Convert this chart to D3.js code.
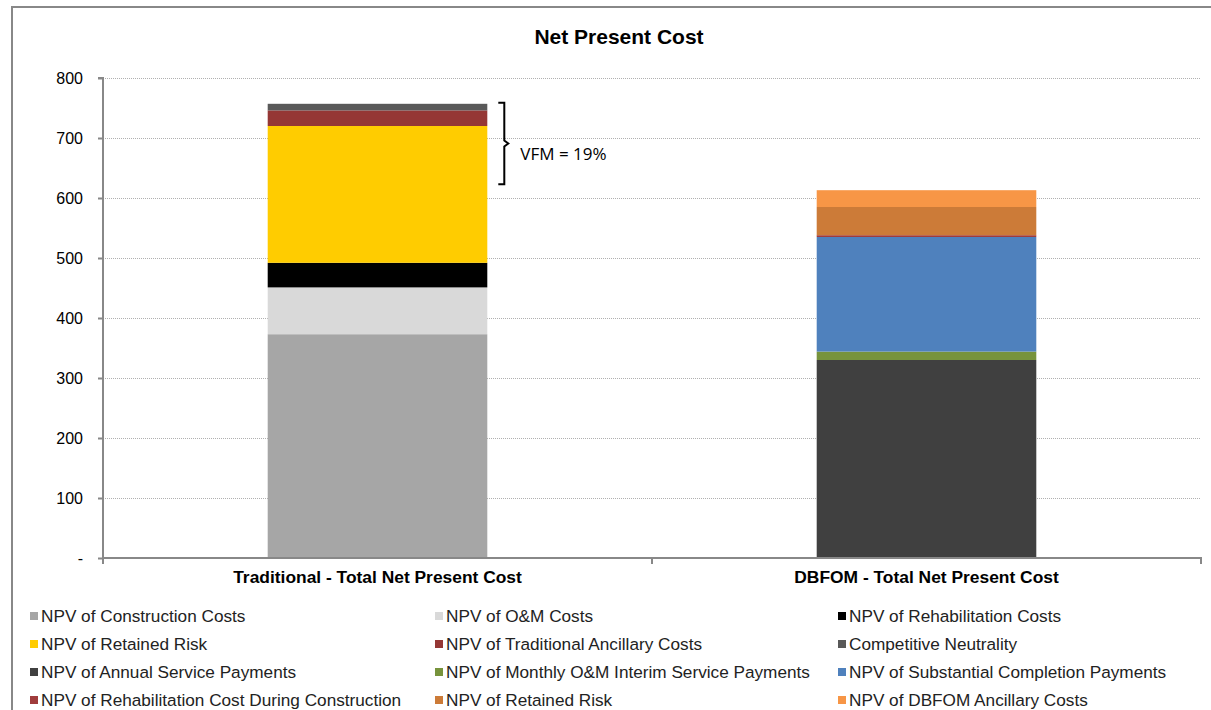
<html>
<head>
<script src="https://d3js.org/d3.v7.min.js"></script>
<style>
  body { margin: 0; background: #fff; }
  text { font-family: "Liberation Sans", Arial, sans-serif; }
</style>
</head>
<body>
<svg id="chart" width="1211" height="710"></svg>
<script>
// categories and series
var categories = ["Traditional - Total Net Present Cost", "DBFOM - Total Net Present Cost"];
var seriesNames = [
  "NPV of Construction Costs", "NPV of O&M Costs", "NPV of Rehabilitation Costs",
  "NPV of Retained Risk", "NPV of Traditional Ancillary Costs", "Competitive Neutrality",
  "NPV of Annual Service Payments", "NPV of Monthly O&M Interim Service Payments", "NPV of Substantial Completion Payments",
  "NPV of Rehabilitation Cost During Construction", "NPV of Retained Risk ", "NPV of DBFOM Ancillary Costs"
];
var traditionalValues = [373, 78, 41, 228, 26, 11, 0, 0, 0, 0, 0, 0];
var dbfomValues = [0, 0, 0, 0, 0, 0, 330, 14, 191, 3, 47, 28];
var colors = ["#a6a6a6", "#d9d9d9", "#000000", "#ffcc00", "#953735", "#595959",
              "#404040", "#77933c", "#4f81bd", "#a03c3c", "#cc7b38", "#f79646"];
var yTicks = [0, 100, 200, 300, 400, 500, 600, 700, 800];
var vfmLabel = "VFM = 19%";

var svg = d3.select("#chart");

// frame
svg.append("line").attr("x1", 12).attr("y1", 7).attr("x2", 1211).attr("y2", 7)
  .attr("stroke", "#888").attr("stroke-width", 2);
svg.append("line").attr("x1", 12).attr("y1", 6).attr("x2", 12).attr("y2", 710)
  .attr("stroke", "#888").attr("stroke-width", 2);

var plotLeft = 103, plotRight = 1201, plotTop = 78, plotBottom = 558;

var y = d3.scaleLinear().domain([0, 800]).range([plotBottom, plotTop]);
var xBand = d3.scaleBand().domain(categories).range([plotLeft, plotRight]).paddingInner(0.6).paddingOuter(0.3);
var xAxisScale = d3.scaleBand().domain(categories).range([plotLeft, plotRight]).padding(0);

// table for stack
var rows = categories.map(function(c, i) {
  var r = { cat: c };
  seriesNames.forEach(function(s, j) { r[s] = i === 0 ? traditionalValues[j] : dbfomValues[j]; });
  return r;
});
var stacks = d3.stack().keys(seriesNames)(rows);

// gridlines
svg.append("g").selectAll("line")
  .data(yTicks.filter(function(d) { return d > 0; }))
  .join("line")
    .attr("x1", plotLeft).attr("x2", plotRight - 1)
    .attr("y1", function(d) { return Math.round(y(d)) + 0.5; })
    .attr("y2", function(d) { return Math.round(y(d)) + 0.5; })
    .attr("stroke", "#b0b0b0").attr("stroke-dasharray", "1,1");

// bars
svg.append("g").selectAll("g")
  .data(stacks)
  .join("g")
    .attr("fill", function(d, i) { return colors[i]; })
  .selectAll("rect")
  .data(function(d) { return d; })
  .join("rect")
    .attr("x", function(d) { return xBand(d.data.cat); })
    .attr("y", function(d) { return y(d[1]); })
    .attr("height", function(d) { return y(d[0]) - y(d[1]); })
    .attr("width", xBand.bandwidth());

// y axis
var yAxis = svg.append("g").attr("transform", "translate(" + plotLeft + ",0)")
  .call(d3.axisLeft(y).tickValues(yTicks).tickSize(5).tickPadding(15)
    .tickFormat(function(d) { return d === 0 ? "-" : d; }));
yAxis.select(".domain").attr("stroke", "#888").attr("stroke-width", 2).attr("d", "M-5," + plotTop + "H0V" + plotBottom);
yAxis.selectAll(".tick line").attr("stroke", "#888").attr("stroke-width", 2);
yAxis.selectAll("text").attr("font-size", "16px").attr("fill", "#000")
  .style("font-family", "'Liberation Sans', Arial, sans-serif");

// x axis
var xAxis = svg.append("g").attr("transform", "translate(0," + plotBottom + ")")
  .call(d3.axisBottom(xAxisScale).tickSize(0).tickPadding(13));
xAxis.select(".domain").attr("stroke", "#888").attr("stroke-width", 2).attr("d", "M" + plotLeft + ",6V0H" + plotRight + "V6");
xAxis.selectAll("text").attr("font-size", "17.4px").attr("font-weight", "bold").attr("fill", "#000")
  .style("font-family", "'Liberation Sans', Arial, sans-serif");
xAxis.append("line").attr("x1", xAxisScale(categories[1])).attr("x2", xAxisScale(categories[1]))
  .attr("y1", 0).attr("y2", 6).attr("stroke", "#888").attr("stroke-width", 2);

// title
svg.append("text").attr("x", 619).attr("y", 44).attr("text-anchor", "middle")
  .attr("font-size", "21px").attr("font-weight", "bold").text("Net Present Cost");

// VFM bracket
var tradTotal = d3.sum(traditionalValues), dbTotal = d3.sum(dbfomValues);
var bx = xBand(categories[0]) + xBand.bandwidth() + 17;
var yTop = y(tradTotal) - 1, yBot = y(dbTotal) - 6, yMid = (yTop + yBot) / 2;
svg.append("path")
  .attr("d", "M" + (bx - 6) + "," + yTop + "H" + bx + "V" + (yMid - 3) + "L" + (bx + 4) + "," + yMid +
             "L" + bx + "," + (yMid + 3) + "V" + yBot + "H" + (bx - 6))
  .attr("fill", "none").attr("stroke", "#000").attr("stroke-width", 2);
svg.append("text").attr("x", bx + 16).attr("y", yMid + 16).attr("font-size", "17px")
  .style("font-family", "'Open Sans', 'Liberation Sans', sans-serif").text(vfmLabel);

// legend
var legCols = [30, 435, 838], legRows = [616, 644, 672, 700];
var legend = svg.append("g").selectAll("g")
  .data(seriesNames)
  .join("g")
    .attr("transform", function(d, i) { return "translate(" + legCols[i % 3] + "," + legRows[Math.floor(i / 3)] + ")"; });
legend.append("rect").attr("x", 0).attr("y", -4).attr("width", 8).attr("height", 8)
  .attr("fill", function(d, i) { return colors[i]; });
legend.append("text").attr("x", 11).attr("y", 6).attr("font-size", "17.2px").attr("fill", "#222")
  .text(function(d) { return d.trim(); });
</script>
</body>
</html>
